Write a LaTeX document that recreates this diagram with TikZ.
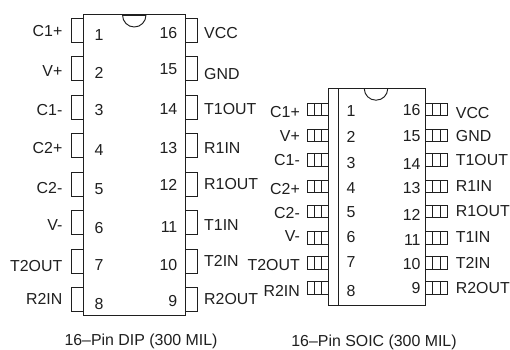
\documentclass[tikz,border=0pt]{standalone}
\usepackage{fontspec}
\setmainfont{Liberation Sans}
\definecolor{ink}{HTML}{1F1F1F}
\tikzset{
  x=1pt,y=-1pt,
  outline/.style={draw=ink,line width=0.95pt,line join=miter},
  lbl/.style={inner sep=0pt,text=ink,font=\fontsize{15.9}{17}\selectfont,text height=11.4pt,text depth=0pt},
  lblleft/.style={lbl,anchor=east},
  lblright/.style={lbl,anchor=west},
  num/.style={lbl,anchor=center},
  numright/.style={lbl,anchor=east},
  captext/.style={lbl,anchor=center}
}
\begin{document}
\begin{tikzpicture}
\useasboundingbox[fill=white] (0,0) rectangle (510,349);
% ---- DIP ----
\draw[outline] (83,14.5) rectangle (185,315);
\draw[outline] (122.5,15) arc[start angle=180,end angle=360,x radius=11.75,y radius=-12];
\draw[ink,line width=1.6pt] (122.5,15) -- (146,15);
\foreach \t/\b in {18.5/42,56.5/80,95/119,133.5/157,172/196,210/234.5,249/273,287/311.5}{
  \draw[outline] (83,\t) -- (71,\t) -- (71,\b) -- (83,\b);
  \draw[outline] (185,\t) -- (197,\t) -- (197,\b) -- (185,\b);
}
\foreach \n/\y/\s in {a1/31/C1+,a2/71/V+,a3/110/C1-,a4/148/C2+,a5/188/C2-,a6/225/V-,a7/266/T2OUT,a8/299/R2IN}
  \node[lblleft] (\n) at (62.5,\y) {\s};
\foreach \n/\y/\s in {b1/33/VCC,b2/74/GND,b3/109/T1OUT,b4/148/R1IN,b5/184/R1OUT,b6/225/T1IN,b7/261/T2IN,b8/299/R2OUT}
  \node[lblright] (\n) at (204,\y) {\s};
\foreach \y/\s in {34.5/1,72.5/2,110/3,150/4,189/5,228/6,265/7,304/8}
  \node[num] (c\s) at (99,\y) {\s};
\foreach \y/\s in {32.5/16,69/15,109/14,148/13,185/12,227/11,265/10,301/9}
  \node[numright] (d\s) at (177.5,\y) {\s};
\node[captext] (dipcap) at (141,340) {16–Pin DIP (300 MIL)};
% ---- SOIC ----
\draw[outline] (328.3,88.7) rectangle (425.3,305);
\draw[outline] (338.3,88.7) -- (338.3,305);
\draw[outline] (364.3,88.7) arc[start angle=180,end angle=360,x radius=11.7,y radius=-11.5];
\foreach \t/\b in {103.3/115.7,129/141,153.3/166,180/192,205/217.5,231/244,256/269,281.7/294}{
  \draw[outline] (328.3,\t) -- (307.3,\t) -- (307.3,\b) -- (328.3,\b);
  \draw[outline] (314.3,\t) -- (314.3,\b) (321.3,\t) -- (321.3,\b);
  \draw[outline] (425.3,\t) -- (447.3,\t) -- (447.3,\b) -- (425.3,\b);
  \draw[outline] (432.7,\t) -- (432.7,\b) (440,\t) -- (440,\b);
}
\foreach \n/\y/\s in {e1/112/C1+,e2/135.7/V+,e3/160/C1-,e4/189/C2+,e5/212.7/C2-,e6/236/V-,e7/265/T2OUT,e8/291/R2IN}
  \node[lblleft] (\n) at (300,\y) {\s};
\foreach \n/\y/\s in {f1/113/VCC,f2/136/GND,f3/160/T1OUT,f4/186/R1IN,f5/211/R1OUT,f6/237/T1IN,f7/263/T2IN,f8/288/R2OUT}
  \node[lblright] (\n) at (455.7,\y) {\s};
\foreach \y/\s in {110.7/1,137/2,163/3,188/4,212/5,237/6,262/7,291/8}
  \node[num] (g\s) at (351,\y) {\s};
\foreach \y/\s in {110/16,136/15,164/14,188/13,215/12,240/11,264/10,288/9}
  \node[numright] (h\s) at (420.7,\y) {\s};
\node[captext] (soiccap) at (374,341) {16–Pin SOIC (300 MIL)};
\end{tikzpicture}
\end{document}
